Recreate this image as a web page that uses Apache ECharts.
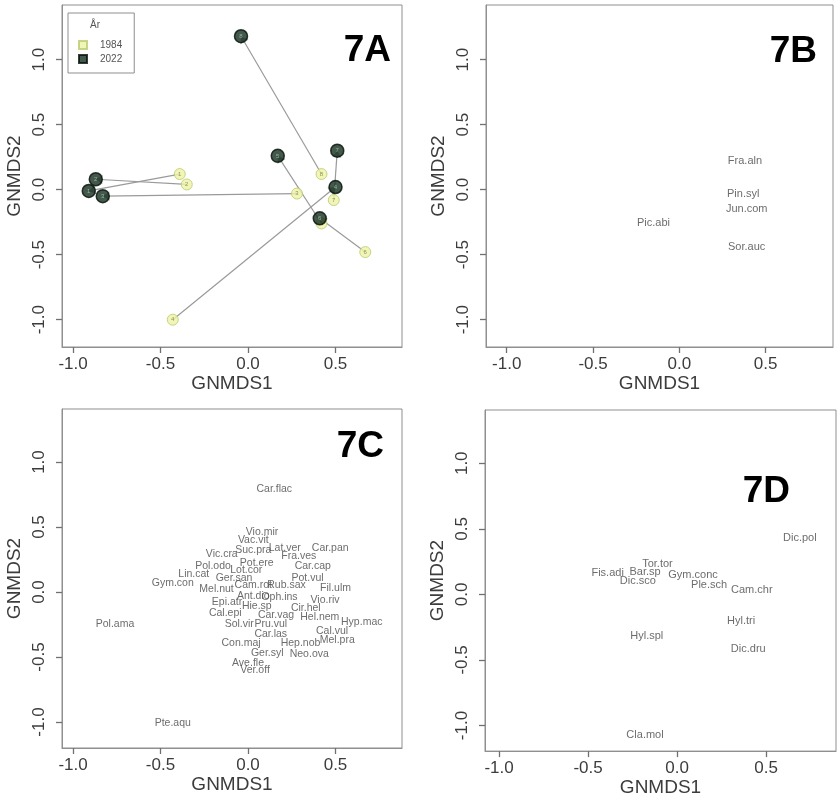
<!DOCTYPE html>
<html>
<head>
<meta charset="utf-8">
<script src="https://cdn.jsdelivr.net/npm/echarts@6/dist/echarts.min.js"></script>
<style>
  html, body { margin: 0; padding: 0; background: #fff; }
  #chart { width: 837px; height: 798px; }
</style>
</head>
<body>
<div id="chart"></div>
<script>
// ---- 7A: site scores, 1984 -> 2022 ----
const siteIds = ['1', '2', '3', '4', '5', '6', '7', '8'];
const x1984 = [-0.39, -0.35, 0.28, -0.43, 0.42, 0.67, 0.49, 0.42];
const y1984 = [0.12, 0.04, -0.03, -1.00, -0.26, -0.48, -0.08, 0.12];
const x2022 = [-0.91, -0.87, -0.83, 0.50, 0.17, 0.41, 0.51, -0.04];
const y2022 = [-0.01, 0.08, -0.05, 0.02, 0.26, -0.22, 0.30, 1.18];
const yearNames = ['1984', '2022'];

// ---- 7B: tree species ----
const bSpecies = ['Fra.aln', 'Pin.syl', 'Jun.com', 'Pic.abi', 'Sor.auc'];
const bX = [0.38, 0.37, 0.39, -0.15, 0.39];
const bY = [0.22, -0.03, -0.15, -0.26, -0.44];

// ---- 7C: field-layer species ----
const cSpecies = ['Car.flac', 'Vio.mir', 'Vac.vit', 'Lat.ver', 'Car.pan', 'Suc.pra', 'Vic.cra', 'Fra.ves',
  'Pol.odo', 'Pot.ere', 'Car.cap', 'Lot.cor', 'Lin.cat', 'Pot.vul', 'Ger.san', 'Gym.con', 'Cam.rot',
  'Rub.sax', 'Mel.nut', 'Fil.ulm', 'Ant.dio', 'Oph.ins', 'Vio.riv', 'Epi.atr', 'Hie.sp', 'Cir.hel',
  'Cal.epi', 'Car.vag', 'Hel.nem', 'Hyp.mac', 'Sol.vir', 'Pru.vul', 'Car.las', 'Cal.vul', 'Mel.pra',
  'Con.maj', 'Hep.nob', 'Ger.syl', 'Neo.ova', 'Ave.fle', 'Ver.off', 'Pol.ama', 'Pte.aqu'];
const cX = [0.15, 0.08, 0.03, 0.21, 0.47, 0.03, -0.15, 0.29,
  -0.20, 0.05, 0.37, -0.01, -0.31, 0.34, -0.08, -0.43, 0.03,
  0.22, -0.18, 0.50, 0.03, 0.18, 0.44, -0.12, 0.05, 0.33,
  -0.13, 0.16, 0.41, 0.65, -0.05, 0.13, 0.13, 0.48, 0.51,
  -0.04, 0.30, 0.11, 0.35, 0.00, 0.04, -0.76, -0.43];
const cY = [0.79, 0.46, 0.40, 0.34, 0.34, 0.32, 0.29, 0.28,
  0.20, 0.22, 0.20, 0.17, 0.14, 0.11, 0.11, 0.07, 0.05,
  0.05, 0.02, 0.03, -0.03, -0.04, -0.06, -0.08, -0.11, -0.12,
  -0.16, -0.18, -0.19, -0.23, -0.25, -0.25, -0.32, -0.30, -0.37,
  -0.39, -0.39, -0.47, -0.48, -0.55, -0.60, -0.25, -1.01];

// ---- 7D: bottom-layer species (mosses, lichens) ----
const dSpecies = ['Dic.pol', 'Tor.tor', 'Fis.adi', 'Bar.sp', 'Dic.sco', 'Gym.conc', 'Ple.sch', 'Cam.chr',
  'Hyl.tri', 'Hyl.spl', 'Dic.dru', 'Cla.mol'];
const dX = [0.69, -0.11, -0.39, -0.18, -0.22, 0.09, 0.18, 0.42, 0.36, -0.17, 0.40, -0.18];
const dY = [0.43, 0.23, 0.16, 0.17, 0.10, 0.15, 0.07, 0.03, -0.20, -0.32, -0.42, -1.07];

const tickValues = [-1, -0.5, 0, 0.5, 1];
const panelNames = ['7A', '7B', '7C', '7D'];

const FONT = 'Liberation Sans, Arial, sans-serif';
const TXT = '#3c3c3c';
const FRAME = '#8f8f8f';

// plot areas of the four panels
const grids = [
  { left: 62, top: 5, width: 340, height: 342 },
  { left: 486, top: 5, width: 347, height: 342 },
  { left: 62, top: 409, width: 340, height: 339 },
  { left: 485, top: 410, width: 351, height: 346 }
];
const xRanges = [[-1.063, 0.88], [-1.12, 0.89], [-1.063, 0.88], [-1.079, 0.893]];
const yRanges = [[-1.21, 1.42], [-1.21, 1.42], [-1.20, 1.408], [-1.195, 1.406]];

const fmt = v => v.toFixed(1);

function axisCommon(i, range, isY) {
  return {
    type: 'value', gridIndex: i, min: range[0], max: range[1],
    name: isY ? 'GNMDS2' : 'GNMDS1', nameLocation: 'middle',
    nameGap: isY ? 38 : 26, nameRotate: isY ? 90 : 0,
    nameTextStyle: { fontFamily: FONT, fontSize: 19, color: TXT },
    axisLine: { show: true, onZero: false, lineStyle: { color: FRAME, width: 1 } },
    splitLine: { show: false },
    axisTick: { show: true, inside: false, length: 6, lineStyle: { color: '#707070', width: 1.3 }, customValues: tickValues },
    axisLabel: {
      customValues: tickValues, formatter: fmt, rotate: isY ? 90 : 0, margin: isY ? 14 : 9,
      fontFamily: FONT, fontSize: 17, color: TXT
    }
  };
}
const xAxes = grids.map((g, i) => Object.assign(axisCommon(i, xRanges[i], false), { position: 'bottom' }));
const yAxes = grids.map((g, i) => Object.assign(axisCommon(i, yRanges[i], true), { position: 'left' }));

const YELLOW = '#eef2a6', YELLOW_EDGE = '#bccb6a';
const DARK = '#14301f', DARK_EDGE = '#050f08';

const arrows = siteIds.map((s, i) => ({ coords: [[x1984[i], y1984[i]], [x2022[i], y2022[i]]] }));
const pts1984 = siteIds.map((s, i) => ({ name: s, value: [x1984[i], y1984[i]] }));
const pts2022 = siteIds.map((s, i) => ({ name: s, value: [x2022[i], y2022[i]] }));

function textSeries(idx, names, xs, ys, size) {
  return {
    type: 'scatter', xAxisIndex: idx, yAxisIndex: idx,
    symbolSize: 0, silent: true,
    data: names.map((n, i) => ({ name: n, value: [xs[i], ys[i]] })),
    label: { show: true, position: 'inside', formatter: '{b}', fontFamily: FONT, fontSize: size, color: '#474747' }
  };
}

const option = {
  backgroundColor: '#fff',
  animation: false,
  grid: grids.map(g => Object.assign({ show: true, borderColor: FRAME, borderWidth: 1, backgroundColor: 'transparent' }, g)),
  xAxis: xAxes,
  yAxis: yAxes,
  legend: {
    data: [{ name: yearNames[0], icon: 'rect' }, { name: yearNames[1], icon: 'rect' }],
    orient: 'vertical', left: 68, top: 13,
    padding: [26, 12, 8, 10],
    borderColor: FRAME, borderWidth: 1,
    itemWidth: 8, itemHeight: 8, itemGap: 2,
    textStyle: { fontFamily: FONT, fontSize: 10, color: '#555', lineHeight: 12, padding: [0, 0, 0, 8] }
  },
  series: [
    {
      type: 'lines', coordinateSystem: 'cartesian2d', xAxisIndex: 0, yAxisIndex: 0,
      data: arrows, symbol: ['none', 'arrow'], symbolSize: 7,
      lineStyle: { color: '#9a9a9a', width: 1.2, opacity: 1 }, z: 2, silent: true
    },
    {
      name: yearNames[0], type: 'scatter', xAxisIndex: 0, yAxisIndex: 0,
      symbol: 'circle', symbolSize: 11, data: pts1984, z: 3,
      itemStyle: { color: YELLOW, borderColor: YELLOW_EDGE, borderWidth: 1 },
      label: { show: true, position: 'inside', formatter: '{b}', fontSize: 6, color: '#7a7a40', fontFamily: FONT }
    },
    {
      name: yearNames[1], type: 'scatter', xAxisIndex: 0, yAxisIndex: 0,
      symbol: 'circle', symbolSize: 13, data: pts2022, z: 4,
      itemStyle: { color: DARK, borderColor: DARK_EDGE, borderWidth: 1.5 },
      label: { show: true, position: 'inside', formatter: '{b}', fontSize: 6, color: '#b8c4b8', fontFamily: FONT }
    },
    textSeries(1, bSpecies, bX, bY, 11),
    textSeries(2, cSpecies, cX, cY, 10.5),
    textSeries(3, dSpecies, dX, dY, 11)
  ],
  graphic: [
    { type: 'text', x: 95, y: 25, style: { text: 'År', font: '10px ' + FONT, fill: '#555', align: 'center', verticalAlign: 'middle' } },
    { type: 'text', x: 391, y: 51, style: { text: panelNames[0], font: 'bold 37px ' + FONT, fill: '#000', align: 'right', verticalAlign: 'middle' } },
    { type: 'text', x: 817, y: 52, style: { text: panelNames[1], font: 'bold 37px ' + FONT, fill: '#000', align: 'right', verticalAlign: 'middle' } },
    { type: 'text', x: 384, y: 447, style: { text: panelNames[2], font: 'bold 37px ' + FONT, fill: '#000', align: 'right', verticalAlign: 'middle' } },
    { type: 'text', x: 790, y: 492, style: { text: panelNames[3], font: 'bold 37px ' + FONT, fill: '#000', align: 'right', verticalAlign: 'middle' } }
  ]
};

const chart = echarts.init(document.getElementById('chart'), null, { renderer: 'canvas' });
chart.setOption(option);
</script>
</body>
</html>
